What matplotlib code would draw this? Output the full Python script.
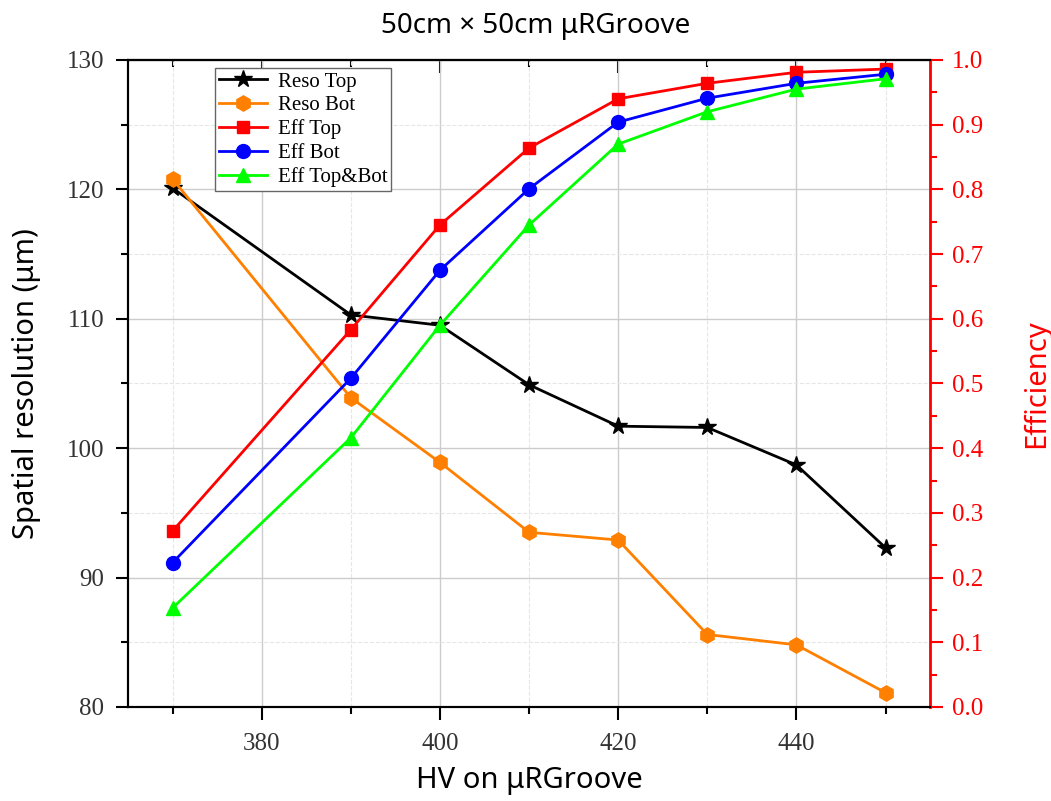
import matplotlib.pyplot as plt
from matplotlib.ticker import MultipleLocator

hv = [370, 390, 400, 410, 420, 430, 440, 450]
reso_top = [120.1, 110.3, 109.5, 104.9, 101.7, 101.6, 98.7, 92.3]
reso_bot = [120.8, 103.9, 98.9, 93.5, 92.9, 85.6, 84.8, 81.1]
eff_top = [0.272, 0.583, 0.745, 0.864, 0.940, 0.964, 0.981, 0.986]
eff_bot = [0.223, 0.508, 0.675, 0.801, 0.904, 0.941, 0.964, 0.978]
eff_both = [0.153, 0.416, 0.590, 0.745, 0.870, 0.920, 0.955, 0.971]

serif = ['Liberation Serif', 'DejaVu Serif']
sans = ['Noto Sans', 'DejaVu Sans']

fig = plt.figure(figsize=(10.51, 8.01), dpi=100)
ax = fig.add_axes([0.1218, 0.1174, 0.7632, 0.8077])
ax2 = ax.twinx()

l1, = ax.plot(hv, reso_top, color='black', marker='*', ms=13, lw=2, label='Reso Top')
l2, = ax.plot(hv, reso_bot, color='#ff8000', marker='h', ms=11, lw=2, label='Reso Bot')
l3, = ax2.plot(hv, eff_top, color='red', marker='s', ms=9, lw=2, label='Eff Top')
l4, = ax2.plot(hv, eff_bot, color='blue', marker='o', ms=10, lw=2, label='Eff Bot')
l5, = ax2.plot(hv, eff_both, color='#00ff00', marker='^', ms=10, lw=2, label='Eff Top&Bot')

ax.set_xlim(365, 455)
ax.set_ylim(80, 130)
ax2.set_ylim(0, 1.0)

ax.xaxis.set_major_locator(MultipleLocator(20))
ax.xaxis.set_minor_locator(MultipleLocator(10))
ax.yaxis.set_major_locator(MultipleLocator(10))
ax.yaxis.set_minor_locator(MultipleLocator(5))
ax2.yaxis.set_major_locator(MultipleLocator(0.1))
ax2.yaxis.set_minor_locator(MultipleLocator(0.05))

ax.grid(which='major', color='#cccccc', lw=1)
ax.grid(which='minor', color='#e6e6e6', lw=0.8, ls='--')
ax.set_axisbelow(True)

ax.tick_params(which='both', direction='out', width=1.5, labelsize=18)
ax.tick_params(which='major', length=9, pad=8)
ax.tick_params(which='minor', length=5)
ax.tick_params(axis='x', which='major', pad=10)
for lab in ax.get_xticklabels() + ax.get_yticklabels():
    lab.set_family(serif)
    lab.set_color('#333333')

# inward ticks on the top spine
top = ax.secondary_xaxis('top')
top.xaxis.set_major_locator(MultipleLocator(20))
top.xaxis.set_minor_locator(MultipleLocator(10))
top.tick_params(which='both', direction='in', width=1.5, labeltop=False)
top.tick_params(which='major', length=9)
top.tick_params(which='minor', length=5)
top.spines['top'].set_linewidth(1.5)

ax2.tick_params(which='both', direction='out', width=1.5, colors='red', labelsize=18)
ax2.tick_params(which='major', length=9, pad=7)
ax2.tick_params(which='minor', length=5)
ax2.set_yticks([i / 10 for i in range(11)])
ax2.set_yticklabels(['%.1f' % (i / 10) for i in range(11)], family=serif)
ax2.spines['right'].set_color('red')
for s in ['left', 'top', 'bottom']:
    ax.spines[s].set_linewidth(1.5)
    ax2.spines[s].set_linewidth(1.5)
ax2.spines['right'].set_linewidth(2)

ax.set_xlabel('HV on μRGroove', family=sans, fontsize=21)
ax.set_ylabel('Spatial resolution (μm)', family=sans, fontsize=21)
ax2.set_ylabel('Efficiency', family=sans, fontsize=21, color='red')
ax.xaxis.set_label_coords(0.5, -0.092)
ax.yaxis.set_label_coords(-0.108, 0.5)
ax2.yaxis.set_label_coords(1.114, 0.5)
fig.text(0.51, 0.968, '50cm × 50cm μRGroove', ha='center', va='center', family=sans, fontsize=20)

leg = ax.legend(handles=[l1, l2, l3, l4, l5], loc='upper left', bbox_to_anchor=(0.1085, 0.988),
                prop={'family': serif, 'size': 15}, fancybox=False, edgecolor='#666666',
                framealpha=1, handlelength=2.3, borderpad=0.2, labelspacing=0.2,
                handletextpad=0.5, borderaxespad=0)
leg.get_frame().set_linewidth(1)

fig.savefig('out.png', dpi=100)
